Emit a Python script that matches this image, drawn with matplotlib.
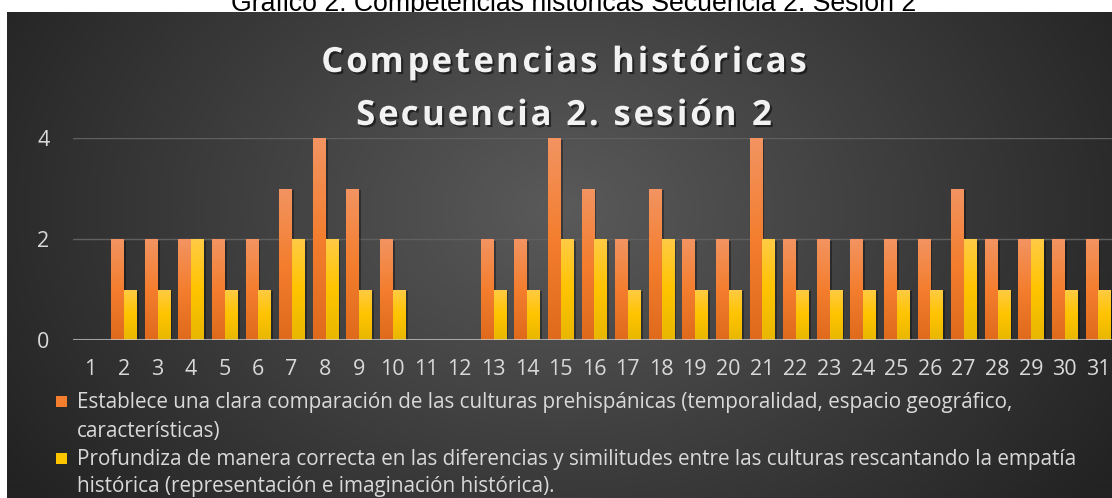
import numpy as np
import matplotlib
matplotlib.use("Agg")
import matplotlib.pyplot as plt
import matplotlib.patheffects as pe
from matplotlib.colors import LinearSegmentedColormap, to_rgb
from matplotlib.patches import Rectangle

# datos
alumnos = list(range(1, 32))
comparacion = [0, 2, 2, 2, 2, 2, 3, 4, 3, 2, 0, 0, 2, 2, 4, 3, 2, 3, 2, 2, 4, 2, 2, 2, 2, 2, 3, 2, 2, 2, 2]
empatia = [0, 1, 1, 2, 1, 1, 2, 2, 1, 1, 0, 0, 1, 1, 2, 2, 1, 2, 1, 1, 2, 1, 1, 1, 1, 1, 2, 1, 2, 1, 1]
yticks = [0, 2, 4]
etiquetas = [
    ["Establece una clara comparación de las culturas prehispánicas (temporalidad, espacio geográfico,",
     "características)"],
    ["Profundiza de manera correcta en las diferencias y similitudes entre las culturas rescantando la empatía",
     "histórica (representación e imaginación histórica)."],
]
titulo = ["Competencias históricas", "Secuencia 2. sesión 2"]
leyenda_fig = "Gráfico 2: Competencias históricas Secuencia 2. Sesión 2"

W, H = 1112, 498
fig = plt.figure(figsize=(W / 100, H / 100), dpi=100, facecolor="white")
rend = fig.canvas.get_renderer()

def fx(px):
    return px / W

def fy(py):
    return 1 - py / H

# caption arriba (cortado como en el original)
fig.text(fx(574), fy(11), leyenda_fig, ha="center", va="baseline",
         fontsize=19.2, family="Liberation Sans", color="black", zorder=0)

# fondo degradado radial
bg = fig.add_axes([fx(7), 0, 1 - fx(7), fy(12)], zorder=1)
bg.axis("off")
yy, xx = np.mgrid[12:H, 7:W]
r = np.sqrt(((xx - 560) / 650.0) ** 2 + ((yy - 210) / 480.0) ** 2)
r = np.clip(r, 0, 1)
c_in = np.array(to_rgb("#5a5a5a"))
c_out = np.array(to_rgb("#232323"))
img = c_in[None, None, :] * (1 - r[..., None]) + c_out[None, None, :] * r[..., None]
bg.imshow(img, extent=(0, 1, 0, 1), aspect="auto", origin="upper")

# ejes principales
paso = 33.6
ax = fig.add_axes([fx(73.2), fy(340), fx(31 * paso), (340 - 138.3) / H], zorder=2)
ax.patch.set_alpha(0)

x = np.array(alumnos)
ancho = 0.36
cm_nar = LinearSegmentedColormap.from_list("nar", ["#DF6A1C", "#F47E2E", "#F29462"])
cm_ama = LinearSegmentedColormap.from_list("ama", ["#E8B700", "#FFC400", "#FFCB45"])
sombra = [pe.withSimplePatchShadow(offset=(2, -1), shadow_rgbFace="black", alpha=0.35)]

b1 = ax.bar(x - 0.19, comparacion, width=ancho, color="#F47E2E", zorder=2, path_effects=sombra)
b2 = ax.bar(x + 0.19, empatia, width=ancho, color="#FFC400", zorder=2, path_effects=sombra)

grad = np.linspace(0, 1, 256).reshape(-1, 1)
for barras, cm in ((b1, cm_nar), (b2, cm_ama)):
    for p in barras:
        h = p.get_height()
        if h <= 0:
            continue
        x0 = p.get_x()
        im = ax.imshow(grad, cmap=cm, origin="lower", aspect="auto",
                       extent=(x0, x0 + p.get_width(), 0, h), zorder=2.1)
        im.set_clip_path(p)

ax.axhline(0, color="#D0D0D0", lw=2.2, alpha=0.7, zorder=3)
ax.set_xlim(0.5, 31.5)
ax.set_ylim(0, 4)
ax.set_xticks(x)
ax.set_xticklabels([str(a) for a in alumnos])
ax.set_yticks(yticks)
ax.yaxis.grid(True, color="#606060", lw=1)
ax.set_axisbelow(True)
for s in ax.spines.values():
    s.set_visible(False)
ax.tick_params(axis="both", length=0, colors="#D9D9D9", labelsize=15.5)
ax.tick_params(axis="x", pad=14)
ax.tick_params(axis="y", pad=17)
for t in ax.get_xticklabels() + ax.get_yticklabels():
    t.set_family("Open Sans")

# titulo con espaciado entre letras
sombra_txt = [pe.withSimplePatchShadow(offset=(1.5, -1.5), shadow_rgbFace="black", alpha=0.5)]
props = dict(fontsize=25, weight="bold", family="Open Sans")

def ancho_txt(s):
    t = fig.text(0, 0, s + "x", **props)
    w = t.get_window_extent(rend).width
    t.remove()
    return w

w_x = ancho_txt("")
track = 2.8
for linea, base in zip(titulo, (72, 125)):
    pos = [ancho_txt(linea[:i]) - w_x + i * track for i in range(len(linea) + 1)]
    total = pos[-1] - track
    x_ini = 564 - total / 2
    for i, ch in enumerate(linea):
        if ch == " ":
            continue
        fig.text(fx(x_ini + pos[i]), fy(base), ch, ha="left", va="baseline",
                 color="#F2F2F2", zorder=5, path_effects=sombra_txt, **props)

# leyenda
colores = ["#F47E2E", "#FFC400"]
bases = [(408, 437), (465, 492)]
for lineas, col, (b_a, b_b) in zip(etiquetas, colores, bases):
    fig.patches.append(Rectangle((fx(56), fy(b_a - 1)), fx(11), 11 / H, transform=fig.transFigure,
                                 facecolor=col, edgecolor="none", zorder=5))
    fig.text(fx(77), fy(b_a), lineas[0], ha="left", va="baseline", fontsize=14.9,
             family="Open Sans", color="#D9D9D9", zorder=5)
    fig.text(fx(77), fy(b_b), lineas[1], ha="left", va="baseline", fontsize=14.9,
             family="Open Sans", color="#D9D9D9", zorder=5)

fig.savefig("out.png", dpi=100, facecolor="white")
